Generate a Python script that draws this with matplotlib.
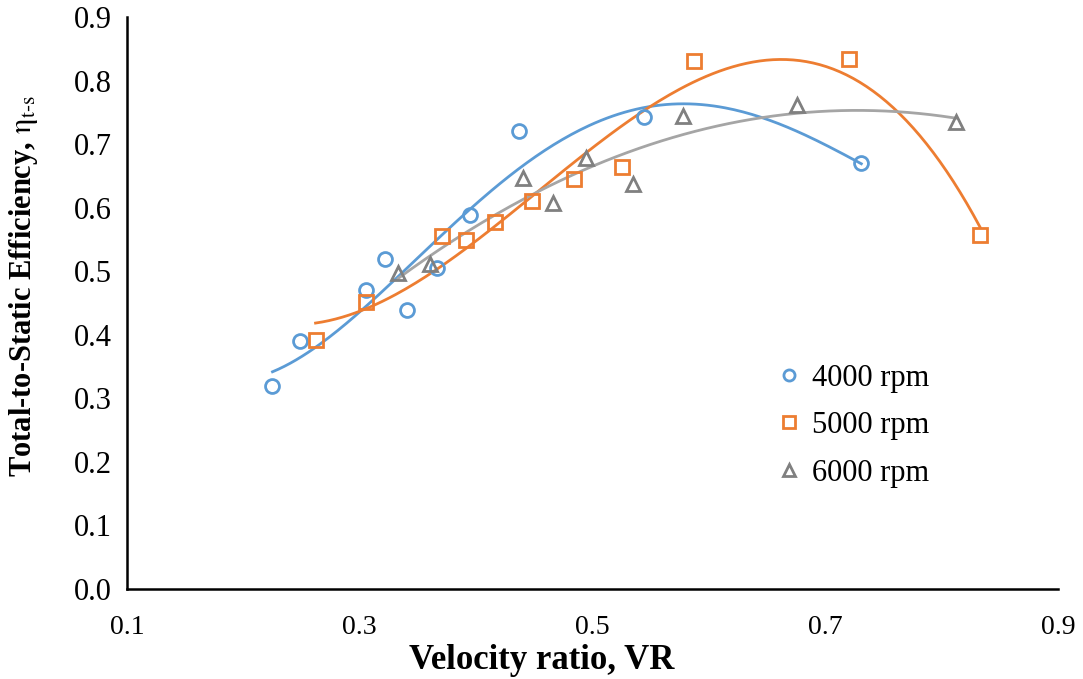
import numpy as np
import matplotlib.pyplot as plt

plt.rcParams['font.family'] = ['Liberation Serif', 'DejaVu Serif']
plt.rcParams['mathtext.fontset'] = 'stix'

# --- Dane pomiarowe ---
vr_4000 = [0.225, 0.249, 0.305, 0.322, 0.341, 0.366, 0.395, 0.437, 0.544, 0.731]
eta_4000 = [0.319, 0.390, 0.470, 0.519, 0.439, 0.505, 0.588, 0.721, 0.743, 0.670]

vr_5000 = [0.262, 0.305, 0.371, 0.391, 0.416, 0.448, 0.484, 0.525, 0.587, 0.720, 0.833]
eta_5000 = [0.392, 0.452, 0.555, 0.549, 0.577, 0.610, 0.645, 0.664, 0.831, 0.834, 0.557]

vr_6000 = [0.333, 0.360, 0.440, 0.466, 0.494, 0.535, 0.578, 0.676, 0.812]
eta_6000 = [0.497, 0.511, 0.647, 0.607, 0.678, 0.637, 0.744, 0.761, 0.735]

labels = ["4000 rpm", "5000 rpm", "6000 rpm"]
series = [(vr_4000, eta_4000), (vr_5000, eta_5000), (vr_6000, eta_6000)]
fit_orders = [4, 3, 2]
markers = ["o", "s", "^"]
marker_sizes = [10, 10.5, 10.5]
marker_colors = ["#5B9BD5", "#ED7D31", "#808080"]
line_colors = ["#5B9BD5", "#ED7D31", "#A5A5A5"]

fig = plt.figure(figsize=(10.83, 6.79), dpi=100)
ax = fig.add_axes([0.1173, 0.1325, 0.8596, 0.8425])

for (x, y), n, lab, m, ms, mc, lc in zip(series, fit_orders, labels, markers,
                                         marker_sizes, marker_colors, line_colors):
    x = np.array(x)
    y = np.array(y)
    # linia trendu - wielomian
    coef = np.polyfit(x, y, n)
    xs = np.linspace(x.min(), x.max(), 200)
    ax.plot(xs, np.polyval(coef, xs), color=lc, lw=2, zorder=2)
    ax.plot(x, y, ls="none", marker=m, markersize=ms,
            markerfacecolor="none", markeredgecolor=mc, markeredgewidth=2,
            label=lab, zorder=3)

ax.set_xlim(0.1, 0.9)
ax.set_ylim(0.0, 0.9)
ax.set_xticks([0.1, 0.3, 0.5, 0.7, 0.9])
ax.set_yticks(np.arange(0, 0.91, 0.1))
ax.set_yticklabels([f"{v:.1f}" for v in np.arange(0, 0.91, 0.1)])
ax.tick_params(axis="both", length=0)
ax.tick_params(axis="y", labelsize=22, pad=11)
ax.tick_params(axis="x", labelsize=20, pad=19)

for s in ["top", "right"]:
    ax.spines[s].set_visible(False)
for s in ["left", "bottom"]:
    ax.spines[s].set_linewidth(1.8)

ax.set_xlabel("Velocity ratio, VR", fontsize=25, fontweight="bold")
ax.xaxis.set_label_coords(0.445, -0.096)
ax.set_ylabel(r"Total-to-Static Efficiency, $\mathrm{\eta_{t\text{-}s}}$",
              fontsize=22, fontweight="bold")
ax.yaxis.set_label_coords(-0.093, 0.53)

ax.legend(loc="upper left", bbox_to_anchor=(0.69, 0.415), frameon=False,
          fontsize=22, handlelength=0.5, handletextpad=0.5, labelspacing=0.6,
          markerscale=0.8, borderaxespad=0)

fig.savefig("out.png", dpi=100)
